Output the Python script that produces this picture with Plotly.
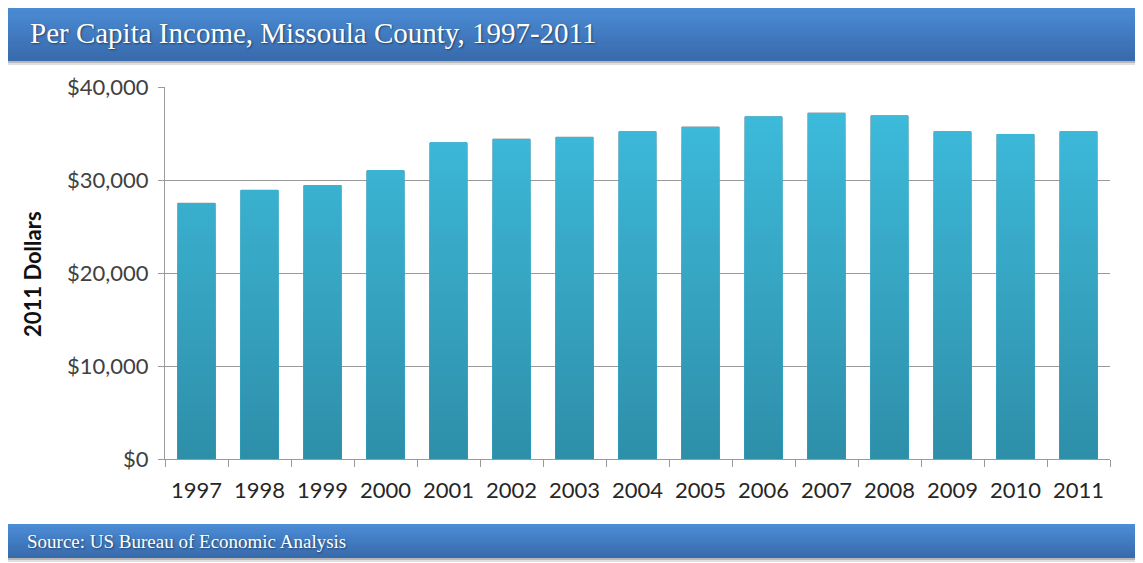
import plotly.graph_objects as go

# Per capita income, Missoula County (2011 dollars)
years = ["1997", "1998", "1999", "2000", "2001", "2002", "2003", "2004",
         "2005", "2006", "2007", "2008", "2009", "2010", "2011"]
income = [27500, 28900, 29400, 31000, 34000, 34400, 34600, 35200,
          35700, 36800, 37200, 36900, 35200, 34900, 35200]

y_ticks = [0, 10000, 20000, 30000, 40000]
y_tick_labels = ["$0", "$10,000", "$20,000", "$30,000", "$40,000"]


def mix(c1, c2, t):
    """Linear blend between two rgb tuples, t in [0, 1]."""
    return "rgb({},{},{})".format(*[round(a + (b - a) * t) for a, b in zip(c1, c2)])


bar_bottom = (46, 142, 168)
bar_top = (62, 189, 222)

fig = go.Figure()

# Bars get a vertical gradient: overlay progressively shorter copies,
# each one capped a bit lower and a bit darker
caps = list(range(40000, 0, -1000))
for i, cap in enumerate(caps):
    fig.add_trace(
        go.Bar(
            x=years,
            y=[min(v, cap) for v in income],
            marker=dict(
                color=mix(bar_bottom, bar_top, cap / 40000),
                line=dict(color="rgba(100,125,135,0.8)" if i == 0 else "rgba(0,0,0,0)",
                          width=1 if i == 0 else 0),
            ),
            hoverinfo="skip" if i else "x+y",
            showlegend=False,
        )
    )

# the page body has an 8px margin, so the figure sits at (8, 8) in the window;
# helpers below take window pixels and turn them into plot-area paper coords
plot_left, plot_right = 165, 1110
plot_top, plot_bottom = 87, 459


def px(pix):
    return (pix - plot_left) / (plot_right - plot_left)


def py(pix):
    return (plot_bottom - pix) / (plot_bottom - plot_top)


shapes = []


def banner(top_px, bottom_px, top_col, bottom_col, n=30):
    # soft shadow under the banner
    shapes.append(dict(type="rect", xref="paper", yref="paper",
                       x0=px(6), x1=px(1160), y0=py(bottom_px + 4), y1=py(top_px + 3),
                       fillcolor="rgba(0,0,0,0.12)", line_width=0, layer="below"))
    shapes.append(dict(type="rect", xref="paper", yref="paper",
                       x0=px(7), x1=px(1160), y0=py(bottom_px + 2), y1=py(top_px + 2),
                       fillcolor="rgba(0,0,0,0.18)", line_width=0, layer="below"))
    # gradient: stacked rects, each one starting lower and a bit darker
    h = (bottom_px - top_px) / n
    for k in range(n):
        shapes.append(dict(type="rect", xref="paper", yref="paper",
                           x0=px(8), x1=px(1160),
                           y0=py(bottom_px), y1=py(top_px + k * h),
                           fillcolor=mix(top_col, bottom_col, k / (n - 1)),
                           line_width=0, layer="below"))


banner(5, 61, (76, 141, 214), (56, 106, 172))
banner(524, 558, (76, 141, 214), (56, 106, 172))

serif = "'Liberation Serif', 'DejaVu Serif', serif"

fig.update_layout(
    width=1135,
    height=555,
    margin=dict(l=157, r=33, t=79, b=104),
    barmode="overlay",
    bargap=0.41,
    plot_bgcolor="white",
    paper_bgcolor="white",
    font=dict(family="Lato, 'Open Sans', sans-serif", color="#404040", size=22),
    shapes=shapes,
    xaxis=dict(
        showline=True,
        linecolor="#9a9a9a",
        linewidth=1,
        ticks="outside",
        tickson="boundaries",
        ticklen=7,
        tickcolor="#9a9a9a",
        ticklabelstandoff=12,
        tickfont=dict(size=22, color="#262626"),
        showgrid=False,
    ),
    yaxis=dict(
        range=[0, 40000],
        tickvals=y_ticks,
        ticktext=y_tick_labels,
        showline=True,
        linecolor="#9a9a9a",
        linewidth=1,
        ticks="outside",
        ticklen=6,
        tickcolor="#9a9a9a",
        ticklabelstandoff=5,
        showgrid=True,
        gridcolor="#9a9a9a",
        gridwidth=1,
        zeroline=False,
        tickfont=dict(size=22, color="#404040"),
    ),
    annotations=[
        dict(text="<b>2011 Dollars</b>", textangle=-90,
             xref="paper", yref="paper", x=px(32), y=py(274),
             xanchor="center", yanchor="middle", showarrow=False,
             font=dict(size=22, color="#111111")),
        dict(text="Per Capita Income, Missoula County, 1997-2011",
             xref="paper", yref="paper", x=px(28), y=py(33),
             xanchor="left", yanchor="middle", showarrow=False,
             font=dict(family=serif, size=29, color="white",
                       shadow="1px 1px 2px rgba(0,0,0,0.45)")),
        dict(text="Source: US Bureau of Economic Analysis",
             xref="paper", yref="paper", x=px(25), y=py(541),
             xanchor="left", yanchor="middle", showarrow=False,
             font=dict(family=serif, size=19, color="white",
                       shadow="1px 1px 2px rgba(0,0,0,0.45)")),
    ],
)

fig.write_html("out.html")
